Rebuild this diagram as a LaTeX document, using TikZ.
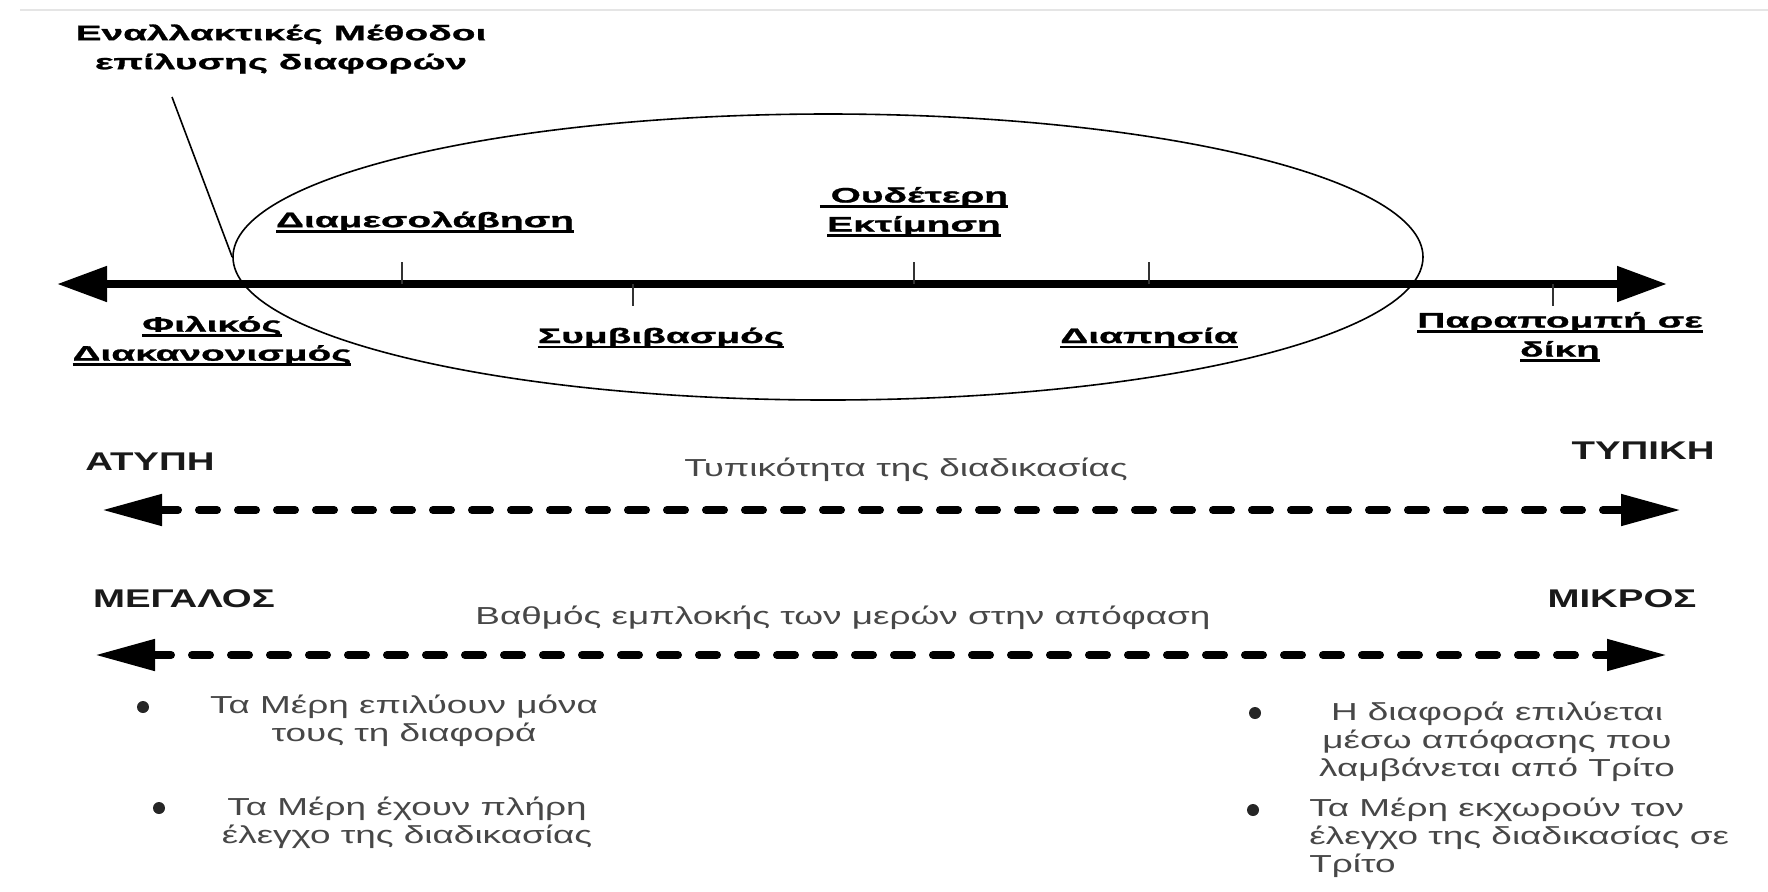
\documentclass[tikz,border=0pt]{standalone}
\usepackage{fontspec}
\setmainfont[FakeStretch=1.5]{Liberation Sans}
\newfontfamily\methfont[FakeStretch=1.85,FakeBold=1.2]{Liberation Sans Bold}
\usetikzlibrary{arrows.meta,shapes.geometric}
\newcommand\ulin[1]{\setbox0=\hbox{#1}\rlap{\rule[-2.7pt]{\wd0}{1.4pt}}\box0}
\tikzset{
  meth/.style={font=\methfont\fontsize{10.5}{14.5}\selectfont, align=center, inner sep=0pt},
  pole/.style={font=\bfseries\fontsize{12.8}{14}\selectfont, text=black!90, inner sep=0pt},
  note/.style={font=\fontsize{12.3}{14}\selectfont, text=black!72, align=center, inner sep=0pt},
  dot/.style={circle, fill=black!85, inner sep=0pt, minimum size=6pt},
  notch/.style={line width=1pt, black!80},
  mainaxis/.style={line width=4pt, {Triangle[length=25pt,width=17pt]}-{Triangle[length=25pt,width=17pt]}},
  dashaxis/.style={line width=4pt, line cap=round, dash pattern=on 9pt off 10.5pt, {Triangle[length=30pt,width=15pt]}-{Triangle[length=30pt,width=15pt]}}
}
\begin{document}
\begin{tikzpicture}[x=0.5pt,y=-0.5pt]
\useasboundingbox (0,0) rectangle (1768,891);
\draw[black!10,line width=1pt] (20,10)--(1768,10);
\node[meth] (ttl) at (281,49) {Εναλλακτικές Μέθοδοι\\επίλυσης διαφορών};
\node[draw,ellipse,line width=.8pt,inner sep=0pt,minimum width=595pt,minimum height=143pt] (adr) at (828,257) {};
\coordinate (lead) at (172,97);
\draw[line width=.8pt] (lead)--(adr.west);
\coordinate (axl) at (57,284);
\coordinate (axr) at (1667,284);
\draw[mainaxis] (axl)--(axr);
\foreach \x in {402,914,1149} \draw[notch] (\x,262)--(\x,284);
\foreach \x in {633,1553} \draw[notch] (\x,284)--(\x,306);
\node[meth] (med) at (425,222) {\ulin{Διαμεσολάβηση}};
\node[meth] (neu) at (914,212) {\ulin{\ Ουδέτερη}\\\ulin{Εκτίμηση}};
\node[meth] (fil) at (212,341) {\ulin{Φιλικός}\\\ulin{Διακανονισμός}};
\node[meth] (sym) at (661,338) {\ulin{Συμβιβασμός}};
\node[meth] (dia) at (1149,338) {\ulin{Διαπησία}};
\node[meth] (dik) at (1560,337) {\ulin{Παραπομπή σε}\\\ulin{δίκη}};
\node[pole] (aty) at (150,462) {ΑΤΥΠΗ};
\node[pole] (typ) at (1643,451) {ΤΥΠΙΚΗ};
\node[note] (frm) at (906,470) {Τυπικότητα της διαδικασίας};
\coordinate (f1l) at (102,510);
\coordinate (f1r) at (1681,510);
\draw[dashaxis] (f1l)--(f1r);
\node[pole] (meg) at (184,599) {ΜΕΓΑΛΟΣ};
\node[pole] (mik) at (1622,599) {ΜΙΚΡΟΣ};
\node[note] (inv) at (843,618) {Βαθμός εμπλοκής των μερών στην απόφαση};
\coordinate (f2l) at (95,655);
\coordinate (f2r) at (1667,655);
\draw[dashaxis] (f2l)--(f2r);
\node[dot] (b1) at (143,707) {};
\node[note] (t1) at (404,721) {Τα Μέρη επιλύουν μόνα\\τους τη διαφορά};
\node[dot] (b2) at (159,808) {};
\node[note] (t2) at (407,823) {Τα Μέρη έχουν πλήρη\\έλεγχο της διαδικασίας};
\node[dot] (b3) at (1255,713) {};
\node[note] (t3) at (1497,742) {Η διαφορά επιλύεται\\μέσω απόφασης που\\λαμβάνεται από Τρίτο};
\node[dot] (b4) at (1253,810) {};
\node[note,align=left,anchor=west] (t4) at (1309,838) {Τα Μέρη εκχωρούν τον\\έλεγχο της διαδικασίας σε\\Τρίτο};
\end{tikzpicture}
\end{document}
